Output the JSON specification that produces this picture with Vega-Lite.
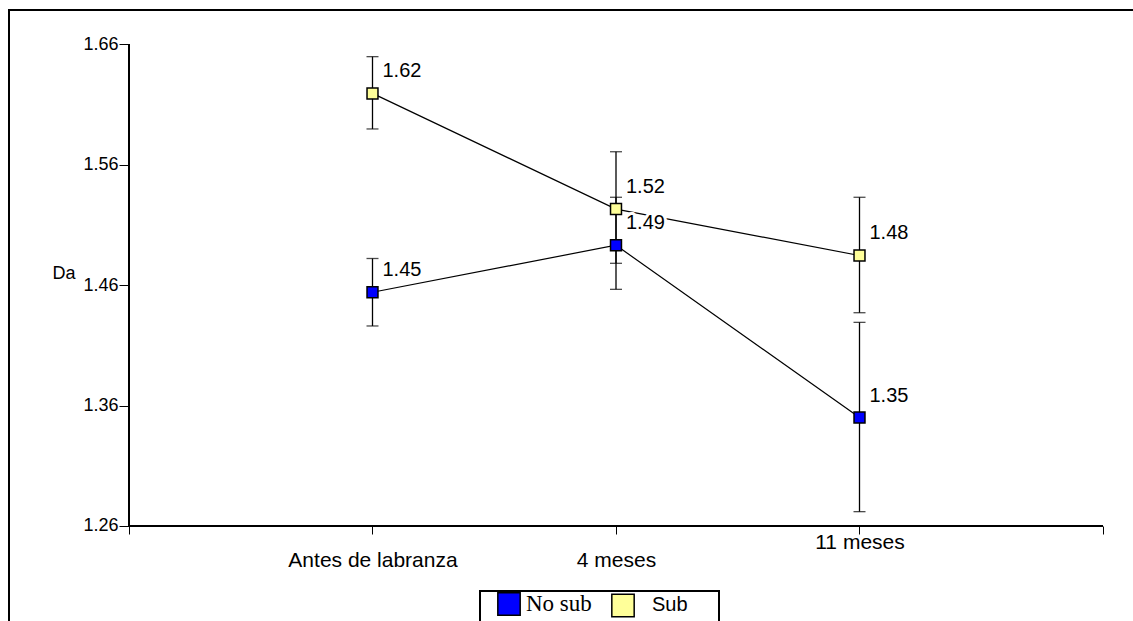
{
  "$schema": "https://vega.github.io/schema/vega-lite/v6.json",
  "width": 1124,
  "height": 611,
  "autosize": {"type": "none"},
  "padding": {"left": 9, "top": 10, "right": 0, "bottom": 0},
  "background": "white",
  "config": {
    "font": "Liberation Sans",
    "view": {"stroke": "black", "strokeWidth": 2, "strokeDash": [1124, 1735, 611], "strokeCap": "square"}
  },
  "data": {
    "values": [
      {"cat": "Antes de labranza", "pos": 1, "series": "No sub", "mean": 1.454, "lo": 1.426, "hi": 1.482, "label": "1.45"},
      {"cat": "Antes de labranza", "pos": 1, "series": "Sub", "mean": 1.619, "lo": 1.5895, "hi": 1.6495, "label": "1.62"},
      {"cat": "4 meses", "pos": 2, "series": "No sub", "mean": 1.493, "lo": 1.4564, "hi": 1.5328, "label": "1.49"},
      {"cat": "4 meses", "pos": 2, "series": "Sub", "mean": 1.523, "lo": 1.478, "hi": 1.5706, "label": "1.52"},
      {"cat": "11 meses", "pos": 3, "series": "No sub", "mean": 1.350, "lo": 1.2719, "hi": 1.429, "label": "1.35"},
      {"cat": "11 meses", "pos": 3, "series": "Sub", "mean": 1.4845, "lo": 1.437, "hi": 1.5328, "label": "1.48"}
    ]
  },
  "encoding": {
    "x": {
      "field": "pos", "type": "quantitative",
      "scale": {"domain": [-0.4928, 4.1232], "nice": false, "zero": false},
      "axis": {
        "orient": "bottom", "offset": -95, "domain": false, "grid": false,
        "values": [0, 1, 2, 3, 4], "tickSize": 8, "tickColor": "black", "tickWidth": 1,
        "labelExpr": "datum.value == 1 ? ['', 'Antes de labranza'] : datum.value == 2 ? ['', '4 meses'] : datum.value == 3 ? '11 meses' : ''",
        "labelFont": "Liberation Sans", "labelFontSize": 21, "labelColor": "black", "labelPadding": -3,
        "labelLineHeight": 18,
        "labelFlush": false, "labelOverlap": false,
        "title": null
      }
    },
    "y": {
      "field": "mean", "type": "quantitative",
      "scale": {"domain": [1.18116, 1.68822], "nice": false, "zero": false},
      "axis": {
        "orient": "left", "offset": -120, "domain": false, "grid": false,
        "values": [1.26, 1.36, 1.46, 1.56, 1.66], "format": ".2f",
        "tickSize": 10, "tickColor": "black", "tickWidth": 1,
        "labelFont": "Liberation Sans", "labelFontSize": 18, "labelColor": "black", "labelPadding": 1,
        "labelFlush": false, "labelOverlap": false,
        "title": "Da", "titleAngle": 0, "titleFont": "Liberation Sans", "titleFontSize": 18,
        "titleFontWeight": "normal", "titleColor": "black",
        "titleX": -77, "titleY": 263, "titleAlign": "left", "titleBaseline": "middle"
      }
    }
  },
  "layer": [
    {
      "mark": {"type": "rule", "color": "black", "strokeWidth": 1.3},
      "encoding": {"x": {"datum": 0}, "x2": {"datum": 4}, "y": {"datum": 1.26}}
    },
    {
      "mark": {"type": "rule", "color": "black", "strokeWidth": 1.3},
      "encoding": {"x": {"datum": 0}, "y": {"datum": 1.26}, "y2": {"datum": 1.66}}
    },
    {
      "mark": {"type": "rule", "color": "black", "strokeWidth": 1.3},
      "encoding": {"y": {"field": "lo", "type": "quantitative"}, "y2": {"field": "hi"}}
    },
    {
      "mark": {"type": "tick", "orient": "horizontal", "color": "black", "thickness": 1.3, "size": 12},
      "encoding": {"y": {"field": "lo", "type": "quantitative"}}
    },
    {
      "mark": {"type": "tick", "orient": "horizontal", "color": "black", "thickness": 1.3, "size": 12},
      "encoding": {"y": {"field": "hi", "type": "quantitative"}}
    },
    {
      "mark": {"type": "line", "color": "black", "strokeWidth": 1.2},
      "encoding": {"detail": {"field": "series"}, "order": {"field": "pos"}}
    },
    {
      "mark": {"type": "text", "align": "left", "baseline": "middle", "dx": 10, "dy": -22, "fontSize": 20, "font": "Liberation Sans", "fill": "white", "stroke": "white", "strokeWidth": 6, "strokeJoin": "round"},
      "encoding": {"text": {"field": "label"}}
    },
    {
      "mark": {"type": "point", "shape": "square", "filled": true, "size": 120, "stroke": "black", "strokeWidth": 1.5, "opacity": 1},
      "encoding": {
        "fill": {
          "field": "series", "type": "nominal",
          "scale": {"domain": ["No sub", "Sub"], "range": ["#0000FF", "#FFFF99"]},
          "legend": {
            "title": null, "orient": "none", "direction": "horizontal",
            "legendX": 471, "legendY": 581,
            "strokeColor": "black", "fillColor": "white", "padding": 1,
            "symbolType": "square", "symbolSize": 500, "symbolStrokeColor": "black", "symbolStrokeWidth": 1.5,
            "symbolOpacity": 1, "symbolOffset": 16, "labelOffset": 5, "columnPadding": 3,
            "labelColor": "black", "labelFontSize": 20, "labelFont": "Liberation Sans",
            "labelExpr": "datum.value == 'Sub' ? ['Sub\u2800\u2800', '', ''] : [datum.label, '', '']",
            "encode": {
              "legend": {"update": {"strokeWidth": {"value": 2}}},
              "labels": {"update": {
                "font": {"signal": "datum.value == 'No sub' ? 'Liberation Serif' : 'Liberation Sans'"},
                "fontSize": {"signal": "datum.value == 'No sub' ? 23 : 20"},
                "baseline": {"value": "top"},
                "lineHeight": {"value": 20},
                "dy": {"value": -11},
                "dx": {"signal": "datum.value == 'Sub' ? 12 : 0"}
              }}
            }
          }
        }
      }
    },
    {
      "mark": {"type": "text", "align": "left", "baseline": "middle", "dx": 10, "dy": -22, "fontSize": 20, "font": "Liberation Sans", "color": "black"},
      "encoding": {"text": {"field": "label"}}
    }
  ]
}
